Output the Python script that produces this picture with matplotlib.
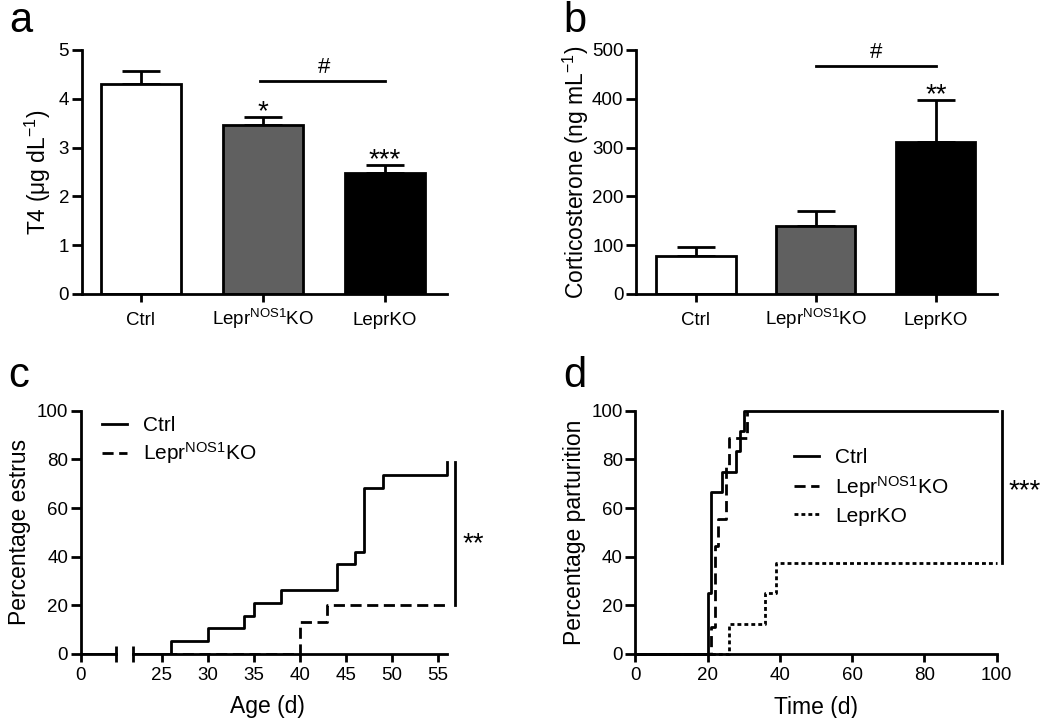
import matplotlib
matplotlib.use("Agg")
import matplotlib.pyplot as plt
import numpy as np

plt.rcParams['font.family'] = ['Liberation Sans', 'DejaVu Sans']
plt.rcParams['mathtext.fontset'] = 'custom'
plt.rcParams['mathtext.rm'] = 'Liberation Sans'
plt.rcParams['mathtext.it'] = 'Liberation Sans:italic'
plt.rcParams['mathtext.bf'] = 'Liberation Sans:bold'
plt.rcParams['axes.linewidth'] = 2
plt.rcParams['xtick.major.width'] = 2
plt.rcParams['ytick.major.width'] = 2
plt.rcParams['xtick.minor.width'] = 2

# ---------------- data ----------------
groups = ['Ctrl', r'Lepr$^{\mathrm{NOS1}}$KO', 'LeprKO']
bar_colors = ['white', '#606060', 'black']

t4_mean = [4.31, 3.47, 2.47]
t4_sem = [0.25, 0.16, 0.18]

cort_mean = [77, 139, 312]
cort_sem = [20, 31, 86]

# panel c: percentage estrus (step curves)
c_ctrl_x = [0, 26, 30, 34, 35, 38, 44, 46, 47, 49, 56]
c_ctrl_y = [0, 5.3, 10.5, 15.8, 21.1, 26.3, 36.8, 42.1, 68.4, 73.7, 78.9]
c_nos_x = [0, 40, 43, 56]
c_nos_y = [0, 13.3, 20, 20]

# panel d: percentage parturition
d_ctrl_x = [0, 20, 21, 24, 28, 29, 30, 100]
d_ctrl_y = [0, 25, 66.7, 75, 83.3, 91.7, 100, 100]
d_nos_x = [0, 21, 22, 23, 25, 26, 31]
d_nos_y = [0, 11.1, 44.4, 55.6, 77.8, 88.9, 100]
d_ko_x = [0, 26, 36, 39, 100]
d_ko_y = [0, 12.5, 25, 37.5, 37.5]

W, H = 1050, 718
fig = plt.figure(figsize=(W / 100, H / 100), dpi=100)


def fbox(x0, x1, ytop, ybot):
    return [x0 / W, 1 - ybot / H, (x1 - x0) / W, (ybot - ytop) / H]


TICK_FS = 13.5
LAB_FS = 16.5
STAR_FS = 20
HASH_FS = 16
LEG_FS = 15

dash_nos = (4, 2)
dash_ko = (1.4, 1.1)


def style_ax(ax):
    for s in ['top', 'right']:
        ax.spines[s].set_visible(False)
    ax.tick_params(axis='both', labelsize=TICK_FS, width=2)
    ax.tick_params(axis='x', length=6, pad=3)
    ax.tick_params(axis='y', length=7, pad=2)


def stars(ax, x, y, s):
    ax.annotate(s, xy=(x, y), xytext=(0, -6), textcoords='offset points',
                ha='center', va='bottom', fontsize=STAR_FS)


def bar_panel(ax, means, sems, ylim, yticks, ylabel, labelpad):
    xpos = np.arange(len(groups))
    ax.bar(xpos, means, width=0.66, color=bar_colors, edgecolor='black',
           linewidth=2, zorder=2)
    ax.errorbar(xpos, means, yerr=[np.zeros(len(sems)), sems], fmt='none',
                ecolor='black', elinewidth=2, capsize=14, capthick=2, zorder=1)
    ax.set_ylim(*ylim)
    ax.set_yticks(yticks)
    ax.set_xticks(xpos)
    ax.set_xticklabels(groups)
    ax.set_ylabel(ylabel, fontsize=LAB_FS, labelpad=labelpad)
    style_ax(ax)
    ax.tick_params(axis='x', pad=16.5)
    for lab in ax.get_xticklabels():
        lab.set_verticalalignment('baseline')
    return xpos


# ---------------- panel a ----------------
axa = fig.add_axes(fbox(81.7, 447, 50, 294))
xa = bar_panel(axa, t4_mean, t4_sem, (0, 5), np.arange(0, 6, 1),
               r'T4 ($\mathrm{\mu}$g dL$^{\mathrm{-1}}$)', 4)
axa.set_xlim(-0.486, 2.51)
axa.plot([xa[1] - 0.02, xa[2]], [4.37, 4.37], color='black', lw=2)
axa.text((xa[1] + xa[2]) / 2, 4.43, '#', ha='center', va='bottom', fontsize=HASH_FS)
stars(axa, xa[1], t4_mean[1] + t4_sem[1], '*')
stars(axa, xa[2], t4_mean[2] + t4_sem[2], '***')

# ---------------- panel b ----------------
axb = fig.add_axes(fbox(636, 997, 50, 294))
xb = bar_panel(axb, cort_mean, cort_sem, (0, 500), np.arange(0, 600, 100),
               r'Corticosterone (ng mL$^{\mathrm{-1}}$)', 1)
axb.set_xlim(-0.5, 2.51)
axb.plot([xb[1], xb[2]], [467, 467], color='black', lw=2)
axb.text((xb[1] + xb[2]) / 2, 473, '#', ha='center', va='bottom', fontsize=HASH_FS)
stars(axb, xb[2], cort_mean[2] + cort_sem[2], '**')

# ---------------- panel c (broken x axis) ----------------
axcL = fig.add_axes(fbox(80.7, 115.7, 410.7, 654))
axcR = fig.add_axes(fbox(133, 449, 410.7, 654))
for ax in (axcL, axcR):
    ax.step(c_ctrl_x, c_ctrl_y, where='post', color='black', lw=2, label='Ctrl')
    ax.step(c_nos_x, c_nos_y, where='post', color='black', lw=2,
            linestyle=(0, dash_nos), label=r'Lepr$^{\mathrm{NOS1}}$KO')
    ax.set_ylim(0, 100)
    style_ax(ax)
axcL.set_xlim(0, 3.8)
axcR.set_xlim(21.9, 56.2)
axcR.spines['bottom'].set_bounds(21.9, 56.0)
axcL.set_xticks([0])
axcR.set_xticks(np.arange(25, 60, 5))
axcL.set_yticks(np.arange(0, 120, 20))
axcL.set_ylabel('Percentage estrus', fontsize=LAB_FS, labelpad=4)
axcR.spines['left'].set_visible(False)
axcR.tick_params(axis='y', left=False, labelleft=False)
# break marks
axcL.set_xticks([3.8], minor=True)
axcR.set_xticks([21.9], minor=True)
for ax in (axcL, axcR):
    ax.tick_params(axis='x', which='minor', direction='inout', length=11, width=2)
axcR.set_xlabel('Age (d)', fontsize=LAB_FS)
axcR.xaxis.set_label_coords(0.424, -0.17)
axcR.plot([56.9, 56.9], [20, 79], color='black', lw=2, clip_on=False)
axcR.text(58.8, 45, '**', ha='center', va='center', fontsize=STAR_FS)
h, l = axcR.get_legend_handles_labels()
fig.legend(h, l, loc='upper left', bbox_to_anchor=(102 / W, 1 - 416 / H),
           frameon=False, fontsize=LEG_FS, handlelength=1.2, handletextpad=0.75,
           labelspacing=0.25, borderpad=0, borderaxespad=0)

# ---------------- panel d ----------------
axd = fig.add_axes(fbox(635.3, 996.7, 410.7, 654))
axd.step(d_ctrl_x, d_ctrl_y, where='post', color='black', lw=2, label='Ctrl',
         clip_on=False)
axd.step(d_nos_x, d_nos_y, where='post', color='black', lw=2,
         linestyle=(0, dash_nos), label=r'Lepr$^{\mathrm{NOS1}}$KO', clip_on=False)
axd.step(d_ko_x, d_ko_y, where='post', color='black', lw=2,
         linestyle=(0, dash_ko), label='LeprKO', clip_on=False)
axd.set_xlim(0, 100)
axd.set_ylim(0, 100)
axd.set_xticks(np.arange(0, 120, 20))
axd.set_yticks(np.arange(0, 120, 20))
style_ax(axd)
axd.set_xlabel('Time (d)', fontsize=LAB_FS, labelpad=9)
axd.set_ylabel('Percentage parturition', fontsize=LAB_FS, labelpad=4)
axd.plot([101.5, 101.5], [37.5, 100], color='black', lw=2, clip_on=False)
axd.text(107.8, 67, '***', ha='center', va='center', fontsize=STAR_FS)
axd.legend(loc='upper left', bbox_to_anchor=(0.44, 0.845), frameon=False,
           fontsize=LEG_FS, handlelength=1.2, handletextpad=0.75,
           labelspacing=0.32, borderpad=0, borderaxespad=0)

# ---------------- panel letters ----------------
for letter, x, y in [('a', 9, 32), ('b', 563, 32), ('c', 8, 387), ('d', 563, 387)]:
    fig.text(x / W, 1 - y / H, letter, fontsize=30, ha='left', va='baseline')

fig.savefig('out.png', dpi=100)
